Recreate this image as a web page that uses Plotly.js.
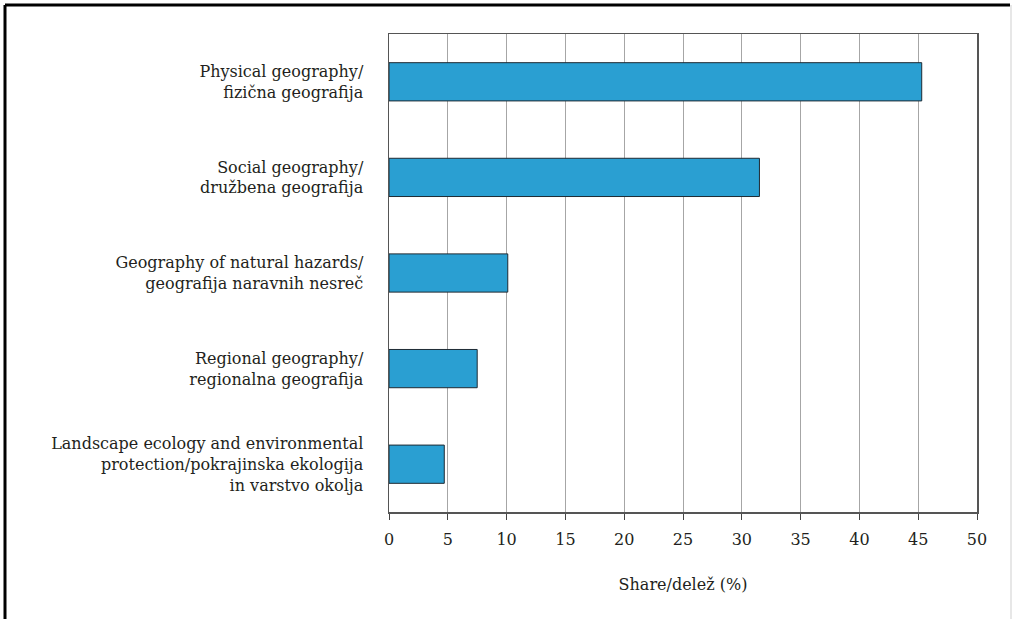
<!DOCTYPE html>
<html>
<head>
<meta charset="utf-8">
<script src="https://cdn.plot.ly/plotly-3.0.1.min.js"></script>
<style>
html,body{margin:0;padding:0;background:#fff;}
#chart{width:1015px;height:619px;}
</style>
</head>
<body>
<div id="chart"></div>
<script>
const categories = [
  "Physical geography/<br>fizična geografija",
  "Social geography/<br>družbena geografija",
  "Geography of natural hazards/<br>geografija naravnih nesreč",
  "Regional geography/<br>regionalna geografija",
  "Landscape ecology and environmental<br>protection/pokrajinska ekologija<br>in varstvo okolja"
];
const shares = [45.3, 31.5, 10.1, 7.5, 4.7];
const xTicks = [0, 5, 10, 15, 20, 25, 30, 35, 40, 45, 50];
const xTitle = "Share/delež (%)";

const font = {family: "DejaVu Serif", size: 16, color: "#231f20"};

const trace = {
  type: "bar",
  orientation: "h",
  x: shares,
  y: categories,
  width: 0.4,
  marker: {color: "#2a9fd2", line: {color: "#1e2a33", width: 1}},
  hoverinfo: "x+y"
};

const layout = {
  width: 1015, height: 619,
  margin: {l: 389, r: 38, t: 34, b: 107},
  paper_bgcolor: "#fff", plot_bgcolor: "#fff",
  font: font,
  showlegend: false,
  xaxis: {
    range: [0, 50],
    tickvals: xTicks,
    ticktext: xTicks.map(String),
    tickfont: font,
    ticks: "outside", ticklen: 6, tickcolor: "#444", tickwidth: 1,
    showgrid: true, gridcolor: "#a6a6a6", gridwidth: 1,
    zeroline: false,
    showline: true, linecolor: "#555", linewidth: 1.5, mirror: true,
    ticklabelstandoff: 6,
    title: {text: xTitle, font: font, standoff: 31}
  },
  yaxis: {
    autorange: "reversed",
    tickfont: font,
    ticks: "",
    showgrid: false,
    zeroline: false,
    showline: true, linecolor: "#555", linewidth: 1.5, mirror: true,
    ticklabelstandoff: 21
  },
  shapes: [
    {type: "line", xref: "paper", yref: "paper", x0: -384/588, x1: 1010/588 - 389/588, y0: 1 + 29/478, y1: 1 + 29/478, line: {color: "#000", width: 3}},
    {type: "line", xref: "paper", yref: "paper", x0: -384/588, x1: -384/588, y0: 1 + 29/478, y1: -107/478, line: {color: "#000", width: 3}},
    {type: "line", xref: "paper", yref: "paper", x0: (1011-389)/588, x1: (1011-389)/588, y0: 1 + 29/478, y1: -107/478, line: {color: "#cfcfcf", width: 1}}
  ]
};

Plotly.newPlot("chart", [trace], layout, {displayModeBar: false, staticPlot: true});
</script>
</body>
</html>
